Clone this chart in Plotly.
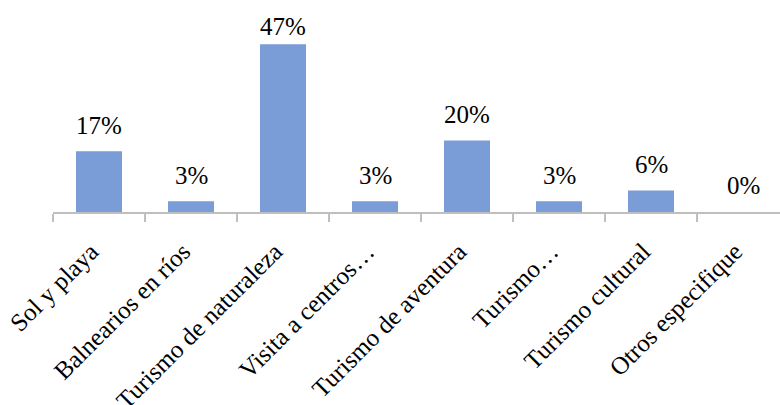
import plotly.graph_objects as go

# Tourism preference categories and their share of responses (%)
categories = [
    "Sol y playa",
    "Balnearios en ríos",
    "Turismo de naturaleza",
    "Visita a centros…",
    "Turismo de aventura",
    "Turismo…",
    "Turismo cultural",
    "Otros especifique",
]
values = [17, 3, 47, 3, 20, 3, 6, 0]
value_labels = [f"{v}%" for v in values]

BAR_COLOR = "#7A9DD8"
AXIS_COLOR = "#BFBFBF"
FONT = "Liberation Serif, Times New Roman, serif"

Y_MAX = 59.4          # top of the value axis
LABEL_LIFT = 3.0      # gap between bar top and its value label (data units)
LABEL_CAP = 47.6      # labels are kept below the top of the plotting area

fig = go.Figure()
fig.add_trace(go.Bar(
    x=categories,
    y=values,
    marker=dict(color=BAR_COLOR, line=dict(width=0)),
    hoverinfo="skip",
))

for cat, v, txt in zip(categories, values, value_labels):
    fig.add_annotation(
        x=cat, y=min(v + LABEL_LIFT, LABEL_CAP),
        xref="x", yref="y",
        text=txt, showarrow=False,
        yanchor="bottom", xanchor="center",
        font=dict(family=FONT, size=25, color="#000000"),
    )

fig.update_layout(
    width=780, height=405,
    margin=dict(l=53, r=0, t=0, b=193),
    paper_bgcolor="white", plot_bgcolor="white",
    bargap=0.5,
    showlegend=False,
    font=dict(family=FONT, size=25, color="#000000"),
    xaxis=dict(
        type="category",
        range=[-0.5, -0.5 + 727 / 92],
        automargin=False,
        tickson="boundaries",
        ticks="outside", ticklen=8, tickwidth=2, tickcolor=AXIS_COLOR,
        showline=True, linecolor=AXIS_COLOR, linewidth=2,
        showgrid=False, zeroline=False,
        tickangle=-45,
        ticklabelstandoff=13,
        ticklabelshift=-8,
        tickfont=dict(family=FONT, size=25, color="#000000"),
    ),
    yaxis=dict(
        range=[0, Y_MAX],
        visible=False, showgrid=False, zeroline=False,
        automargin=False,
    ),
)

fig.write_html("out.html")
